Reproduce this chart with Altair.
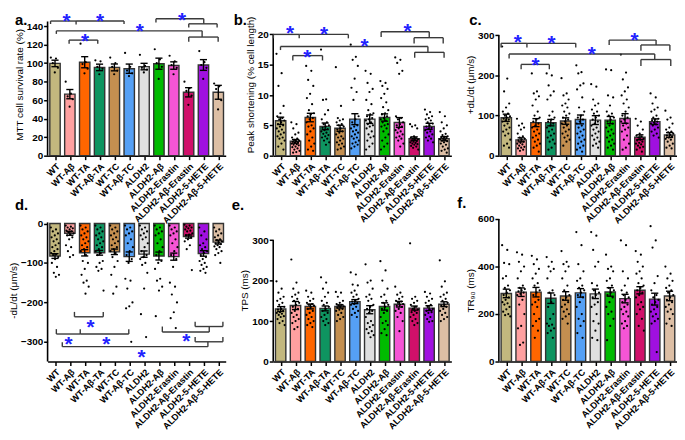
import altair as alt
import pandas as pd

groups = ["WT", "WT-Aβ", "WT-TA", "WT-Aβ-TA", "WT-TC", "WT-Aβ-TC", "ALDH2",
          "ALDH2-Aβ", "ALDH2-Erastin", "ALDH2-Aβ-Erastin", "ALDH2-5-HETE", "ALDH2-Aβ-5-HETE"]
colors = ["#C2B77E", "#FFA0A0", "#FF6600", "#0E9460", "#C48F50", "#55A0F5", "#E0E0E0",
          "#00BB00", "#F555D5", "#D0106A", "#A010E0", "#DDBFA5"]

# ---------------- panel a: MTT ----------------
a_mean = [99.7, 66.5, 101.0, 95.4, 95.4, 94.0, 96.3, 99.4, 97.4, 68.5, 98.0, 68.5]
a_sem = [3.5, 5.0, 6.0, 3.5, 3.7, 5.0, 3.5, 6.0, 4.0, 5.0, 5.8, 7.5]
a_pts = [
    [106, 105, 100, 95, 90],
    [80, 67, 64, 61, 53],
    [121, 101, 99, 94, 89],
    [103, 102, 96, 94, 88],
    [106, 100, 96, 92, 88],
    [111, 96, 92, 89, 86],
    [109, 97, 95, 93, 90],
    [115, 104, 100, 96, 83],
    [108, 102, 98, 95, 88],
    [80, 73, 70, 65, 55],
    [113, 101, 98, 95, 83],
    [78, 75, 72, 60, 50],
]

# ---------------- panel b: peak shortening ----------------
b_mean = [5.75, 2.37, 6.29, 4.84, 4.52, 6.02, 6.02, 6.29, 5.48, 2.8, 4.84, 2.8]
b_sem = [0.6, 0.3, 0.7, 0.55, 0.5, 0.9, 0.7, 0.6, 0.8, 0.3, 0.5, 0.35]
b_pts = [
    [16.8, 13.6, 11.5, 8.2, 7.0, 6.5, 6.2, 6.0, 5.8, 5.5, 5.2, 5.0, 4.8, 4.5, 4.3, 4.0, 3.8, 3.5, 3.2, 3.0, 2.8, 2.5, 2.0, 1.5, 1.0],
    [5.5, 5.2, 4.5, 3.8, 3.5, 3.0, 2.8, 2.6, 2.5, 2.4, 2.3, 2.2, 2.1, 2.0, 1.9, 1.8, 1.7, 1.5, 1.4, 1.2, 1.0, 0.8, 0.6, 0.5],
    [14.8, 14.0, 12.5, 11.5, 10.2, 9.5, 8.5, 7.5, 7.0, 6.8, 6.5, 6.2, 6.0, 5.5, 5.0, 4.8, 4.5, 4.0, 3.5, 3.0, 2.5, 2.0, 1.5, 1.0, 0.8],
    [17.5, 9.3, 9.2, 7.5, 6.8, 6.0, 5.5, 5.2, 5.0, 4.8, 4.6, 4.4, 4.2, 4.0, 3.8, 3.6, 3.4, 3.2, 3.0, 2.8, 2.5, 2.2, 1.8],
    [14.6, 8.2, 6.2, 6.0, 5.8, 5.5, 5.2, 5.0, 4.8, 4.5, 4.3, 4.0, 3.8, 3.5, 3.2, 3.0, 2.8, 2.5, 2.2, 2.0, 1.8, 1.5, 1.2, 1.0],
    [18.3, 16.3, 15.8, 14.8, 12.7, 11.2, 10.5, 9.2, 6.5, 6.0, 5.5, 5.0, 4.8, 4.5, 4.2, 4.0, 3.8, 3.5, 3.2, 3.0, 2.8, 2.5, 2.2, 2.0, 1.8, 1.5, 1.2],
    [14.0, 13.5, 12.0, 11.0, 10.5, 9.2, 8.5, 7.5, 7.0, 6.8, 6.5, 6.2, 6.0, 5.8, 5.5, 5.2, 5.0, 4.8, 4.5, 4.0, 3.5, 3.2, 3.0, 2.5, 2.0, 1.5, 1.0],
    [12.3, 12.0, 11.5, 11.0, 10.2, 9.5, 8.8, 8.0, 7.5, 7.0, 6.8, 6.5, 6.2, 6.0, 5.8, 5.5, 5.2, 5.0, 4.8, 4.5, 4.0, 3.5, 3.0, 2.5, 2.0, 1.5, 1.0],
    [16.2, 15.8, 15.3, 14.0, 13.5, 6.5, 6.2, 6.0, 5.5, 5.2, 5.0, 4.8, 4.5, 4.2, 4.0, 3.8, 3.5, 3.2, 3.0, 2.8, 2.5, 2.0, 1.5],
    [5.2, 5.0, 4.8, 4.5, 3.2, 3.0, 2.9, 2.8, 2.7, 2.6, 2.5, 2.4, 2.3, 2.2, 2.1, 2.0, 1.9, 1.8, 1.6, 1.5, 1.3, 1.0],
    [7.6, 7.2, 6.8, 6.5, 6.2, 6.0, 5.8, 5.5, 5.3, 5.0, 4.8, 4.6, 4.4, 4.2, 4.0, 3.8, 3.5, 3.2, 3.0, 2.8, 2.5, 2.2],
    [7.2, 6.5, 5.5, 5.0, 4.5, 4.0, 3.6, 3.4, 3.2, 3.1, 3.0, 2.9, 2.8, 2.7, 2.6, 2.5, 2.4, 2.2, 2.0, 1.8, 1.5, 1.2, 1.0, 0.8, 0.5],
]

# ---------------- panel c: +dL/dt ----------------
c_mean = [94.4, 39.5, 82.3, 82.3, 86.3, 90.3, 88.7, 88.7, 92.7, 46.0, 84.7, 51.6]
c_sem = [9, 5, 10, 8, 8, 11, 11, 9, 12, 6, 7, 6]
c_pts = [
    [272, 192, 160, 130, 120, 110, 105, 100, 98, 95, 92, 90, 88, 85, 80, 75, 70, 65, 60, 55, 50, 40, 30, 25, 20],
    [92, 80, 75, 70, 65, 55, 48, 45, 42, 40, 38, 35, 32, 30, 28, 25, 22, 20, 18, 15, 12],
    [205, 160, 155, 148, 140, 125, 110, 100, 95, 90, 85, 80, 75, 70, 65, 60, 55, 50, 45, 40, 35, 30, 25, 20, 10],
    [205, 200, 175, 160, 150, 140, 110, 100, 95, 90, 85, 80, 75, 70, 65, 60, 55, 50, 45, 40, 35, 30, 20, 15],
    [193, 155, 150, 140, 130, 125, 120, 110, 105, 100, 95, 90, 85, 80, 75, 70, 65, 60, 55, 50, 45, 40, 35, 25],
    [225, 208, 205, 180, 175, 165, 145, 120, 110, 100, 95, 90, 85, 80, 75, 70, 65, 60, 55, 50, 45, 40, 35, 30, 25, 20, 15, 10],
    [178, 172, 140, 130, 125, 115, 110, 105, 100, 95, 90, 85, 80, 75, 70, 65, 60, 55, 50, 45, 40, 35, 30, 25, 20],
    [215, 213, 150, 145, 125, 110, 105, 100, 95, 90, 85, 80, 75, 70, 65, 60, 55, 50, 45, 40, 35, 30, 25, 20, 15],
    [252, 207, 190, 170, 160, 150, 140, 130, 120, 110, 100, 95, 90, 85, 80, 75, 70, 65, 60, 50, 40, 30, 20, 15],
    [92, 85, 75, 65, 55, 50, 48, 45, 42, 40, 38, 35, 32, 30, 28, 25, 22, 20, 15, 10],
    [155, 145, 130, 120, 115, 110, 100, 95, 92, 90, 88, 85, 82, 80, 78, 75, 70, 65, 60, 55, 50, 45],
    [112, 95, 90, 80, 70, 65, 60, 58, 55, 52, 50, 48, 45, 42, 40, 35, 30, 25, 20, 18],
]

# ---------------- panel d: -dL/dt ----------------
d_mean = [-82.4, -24.7, -74.2, -74.2, -71.7, -84.0, -77.5, -82.4, -84.0, -33.0, -75.8, -47.0]
d_sem = [6, 5, 8, 6, 7, 12, 8, 10, 9, 4, 7, 5]
d_pts = [
    [-10, -15, -20, -25, -30, -35, -40, -45, -50, -55, -60, -65, -70, -75, -78, -80, -85, -90, -100, -110, -125, -130, -135],
    [-5, -8, -10, -12, -15, -18, -20, -22, -25, -28, -30, -35, -40, -55, -60, -70, -80, -85],
    [-5, -10, -15, -20, -25, -30, -35, -40, -45, -50, -55, -60, -65, -70, -80, -95, -100, -115, -130, -145, -150, -160, -178],
    [-5, -10, -15, -20, -25, -30, -35, -40, -45, -50, -55, -60, -65, -70, -75, -80, -95, -100, -110, -115, -120, -170],
    [-5, -10, -15, -20, -25, -30, -35, -40, -45, -50, -55, -60, -65, -70, -75, -85, -95, -110, -130, -160, -178],
    [-5, -10, -15, -20, -25, -30, -40, -50, -60, -70, -80, -90, -100, -140, -145, -165, -200, -210, -215, -300],
    [-5, -10, -15, -20, -25, -30, -35, -40, -50, -60, -70, -80, -85, -90, -100, -105, -125, -165, -230, -288],
    [-5, -10, -15, -20, -25, -30, -40, -50, -60, -70, -80, -95, -100, -115, -140, -145, -160, -170, -235],
    [-5, -10, -15, -20, -25, -30, -40, -50, -60, -70, -80, -90, -110, -150, -160, -180, -200, -225, -240, -265],
    [-3, -5, -8, -10, -12, -15, -18, -20, -25, -28, -30, -35, -40, -45, -55, -65, -118],
    [-10, -20, -30, -40, -50, -55, -60, -65, -70, -75, -80, -85, -90, -95, -100, -105, -110, -115, -120, -125],
    [-10, -15, -20, -25, -30, -35, -40, -42, -45, -48, -50, -52, -55, -58, -60, -65, -70, -75, -80, -100],
]

# ---------------- panel e: TPS ----------------
e_mean = [129.6, 138.4, 136.0, 131.2, 136.0, 148.0, 128.0, 136.0, 141.6, 132.0, 132.0, 141.6]
e_sem = [6, 10, 6, 6, 4, 5, 10, 9, 7, 5, 6, 6]
e_pts = [
    [198, 180, 170, 160, 155, 150, 145, 140, 135, 130, 128, 125, 122, 120, 118, 115, 112, 110, 105, 100, 95, 90],
    [252, 195, 180, 170, 165, 160, 155, 150, 145, 140, 135, 130, 125, 120, 115, 110, 105, 100, 95, 85, 80],
    [175, 170, 160, 155, 150, 145, 142, 140, 138, 135, 130, 125, 120, 115, 110, 105, 100, 95, 90, 85],
    [208, 195, 180, 170, 160, 150, 145, 140, 135, 130, 125, 120, 115, 110, 105, 100, 95, 90],
    [172, 170, 160, 150, 145, 142, 140, 138, 136, 135, 133, 130, 128, 125, 120, 115, 110, 105, 100],
    [220, 215, 190, 188, 175, 170, 165, 160, 155, 150, 148, 145, 142, 140, 135, 130, 125, 120, 115, 110],
    [240, 200, 195, 180, 165, 160, 155, 150, 140, 135, 130, 125, 120, 110, 100, 95, 90, 85, 80, 75, 70, 65, 60],
    [248, 225, 200, 180, 165, 160, 150, 145, 140, 135, 130, 125, 120, 110, 100, 95, 90, 80, 70, 65],
    [185, 170, 165, 160, 155, 150, 148, 145, 142, 140, 138, 135, 130, 125, 120, 110, 100, 75],
    [292, 160, 155, 150, 145, 140, 135, 130, 128, 125, 122, 120, 115, 110, 105, 100, 95, 90],
    [172, 168, 160, 155, 150, 145, 140, 135, 130, 128, 125, 122, 120, 115, 110, 105, 100, 98],
    [250, 198, 185, 170, 165, 160, 155, 150, 145, 140, 138, 135, 130, 125, 120, 115, 110, 105, 100],
]

# ---------------- panel f: TR90 ----------------
f_mean = [286.7, 292.0, 292.0, 266.7, 276.0, 289.0, 285.0, 293.0, 265.0, 300.0, 262.7, 276.0]
f_sem = [18, 18, 20, 22, 18, 18, 20, 18, 18, 15, 25, 20]
f_pts = [
    [490, 470, 415, 410, 360, 350, 320, 310, 300, 290, 280, 270, 260, 250, 245, 240, 230, 220, 210, 200, 195, 190],
    [460, 450, 420, 400, 380, 350, 320, 310, 305, 300, 295, 290, 285, 280, 260, 240, 200, 150, 140, 80, 70],
    [445, 430, 410, 390, 370, 350, 330, 320, 300, 290, 280, 260, 250, 240, 230, 200, 180, 170, 150, 130, 100],
    [440, 420, 400, 390, 380, 350, 300, 290, 280, 250, 230, 200, 180, 160, 155, 150, 140, 130, 120, 100],
    [465, 420, 410, 400, 380, 350, 320, 300, 280, 270, 260, 250, 240, 230, 220, 210, 200, 190, 180, 160],
    [545, 490, 410, 380, 350, 340, 320, 310, 300, 290, 280, 270, 250, 230, 200, 180, 170, 150, 120, 100],
    [545, 530, 470, 420, 400, 330, 320, 300, 290, 280, 270, 250, 240, 230, 200, 170, 160, 130, 100, 90],
    [450, 400, 390, 380, 350, 340, 320, 310, 300, 290, 280, 270, 250, 230, 210, 200, 180, 150, 90],
    [510, 490, 380, 350, 320, 300, 290, 280, 270, 260, 250, 240, 230, 220, 210, 200, 190, 170, 160, 150, 140],
    [465, 450, 420, 400, 380, 370, 350, 330, 320, 310, 300, 290, 280, 270, 250, 240, 230, 220, 200, 180, 150, 130],
    [570, 510, 480, 360, 330, 300, 280, 270, 260, 250, 240, 230, 220, 210, 200, 190, 180, 170, 160, 40],
    [400, 370, 350, 340, 320, 310, 300, 290, 280, 270, 260, 250, 240, 230, 220, 210, 200, 180, 160, 150],
]


# ---------------- significance brackets ----------------
def bracket(xl, xr, y, legs):
    """horizontal bar from xl to xr at height y, plus vertical legs (x, y_end)."""
    segs = [(xl, y, xr, y)]
    for lx, ly in legs:
        segs.append((lx, y, lx, ly))
    return segs


a_brk = (bracket(-0.30, 1.42, 145.5, [(-0.30, 142.3), (1.42, 141.8)])
         + bracket(1.42, 4.65, 145.5, [(4.65, 142.3)])
         + bracket(0.95, 2.88, 124.9, [(0.95, 120.9), (2.88, 120.9)])
         + bracket(0.09, 9.91, 134.9, [(0.09, 131.6), (9.91, 128.2)])
         + bracket(9.01, 10.99, 128.2, [(9.01, 123.2), (10.99, 123.2)])
         + bracket(6.80, 10.02, 148.0, [(6.80, 144.0), (10.02, 142.5)])
         + bracket(9.01, 10.92, 142.5, [(9.01, 138.5), (10.92, 138.5)]))
a_star = [(0.77, 150.3), (3.03, 150.3), (2.02, 129.5), (5.72, 140.5), (8.56, 151.8)]

b_brk = (bracket(-0.49, 1.25, 20.0, [(-0.49, 19.35), (1.25, 19.35)])
         + bracket(1.25, 4.56, 20.0, [(4.56, 19.35)])
         + bracket(0.82, 2.82, 16.5, [(0.82, 15.7), (2.82, 15.7)])
         + bracket(-0.01, 9.92, 18.0, [(-0.01, 17.42), (9.92, 17.04)])
         + bracket(9.03, 11.01, 17.04, [(9.03, 16.13), (11.01, 16.13)])
         + bracket(6.77, 10.01, 20.43, [(6.77, 19.57), (10.01, 19.46)])
         + bracket(8.99, 10.95, 19.46, [(8.99, 18.49), (10.95, 18.49)]))
b_star = [(0.64, 21.07), (2.93, 20.9), (1.80, 17.04), (5.65, 18.92), (8.55, 21.34)]

c_brk = (bracket(-0.35, 1.39, 279.9, [(-0.35, 269.4), (1.39, 269.4)])
         + bracket(1.39, 4.68, 279.9, [(4.68, 269.4)])
         + bracket(1.0, 2.90, 227.4, [(1.0, 215.3), (2.90, 215.3)])
         + bracket(0.19, 10.0, 253.2, [(0.19, 242.0), (10.0, 239.5)])
         + bracket(9.07, 11.08, 239.5, [(9.07, 223.4), (11.08, 223.4)])
         + bracket(6.93, 10.09, 287.9, [(6.93, 275.8), (10.09, 275.8)])
         + bracket(9.07, 11.02, 275.8, [(9.07, 261.3), (11.02, 261.3)]))
c_star = [(0.78, 296.0), (3.05, 293.5), (1.97, 237.1), (5.76, 265.3), (8.64, 300.0)]

d_brk = (bracket(0.09, 1.70, -280.2, [(0.09, -267.8), (1.70, -267.8)])
         + bracket(1.70, 4.97, -280.2, [(4.97, -267.8)])
         + bracket(1.31, 3.25, -236.5, [(1.31, -224.1), (3.25, -224.1)])
         + bracket(0.49, 10.30, -312.3, [(0.49, -300.8), (10.30, -299.9)])
         + bracket(9.44, 11.31, -299.9, [(9.44, -287.6), (11.31, -287.6)])
         + bracket(7.23, 10.39, -275.2, [(7.23, -261.2), (10.39, -261.2)])
         + bracket(9.44, 11.31, -261.2, [(9.44, -248.8), (11.31, -248.8)]))
d_star = [(0.92, -294.2), (3.46, -294.2), (2.39, -248.8), (5.83, -327.1), (8.84, -285.9)]

FONT = "Liberation Sans"
W, H = 180, 144
label_expr = "[" + ",".join("'%s'" % g for g in groups) + "][datum.value]"


def panel(means, sems, pts, ydom, yticks, yline, ytitle, segs, stars, letter, lx, ly):
    bars = pd.DataFrame({"idx": list(range(12)), "name": groups, "mean": means, "sem": sems})
    bars["zero"] = 0.0
    bars["lo"] = bars["mean"] - bars["sem"]
    bars["hi"] = bars["mean"] + bars["sem"]
    bars["x1"] = bars["idx"] - 0.35
    bars["x2"] = bars["idx"] + 0.35
    bars["c1"] = bars["idx"] - 0.24
    bars["c2"] = bars["idx"] + 0.24

    rows = []
    for g, vals in enumerate(pts):
        for k, v in enumerate(vals):
            rows.append({"px": g + (((k * 0.618034) % 1.0) - 0.5) * 0.56, "val": v})
    pdf = pd.DataFrame(rows)

    xs = alt.Scale(domain=[-0.5, 11.5], nice=False, zero=False)
    ys = alt.Scale(domain=ydom, nice=False, zero=False)

    x_axis = alt.Axis(values=list(range(12)), labelExpr=label_expr, labelAngle=-45,
                      labelFont=FONT, labelFontWeight="bold", labelFontSize=9.2,
                      labelColor="black", labelOverlap=False, labelFlush=False,
                      labelPadding=2, tickColor="black", tickWidth=1.5, tickSize=4,
                      domainColor="black", domainWidth=1.6, grid=False, title=None)
    y_axis = alt.Axis(values=yticks, domain=False, tickColor="black", tickWidth=1.5,
                      tickSize=4, labelFont=FONT, labelFontWeight="bold", labelFontSize=10,
                      labelColor="black", labelPadding=1, grid=False, title=ytitle,
                      titleFont=FONT, titleFontSize=10, titleFontWeight="normal",
                      titleColor="black", titlePadding=2)

    def X(f):
        return alt.X(f, type="quantitative", scale=xs, axis=x_axis)

    def Y(f):
        return alt.Y(f, type="quantitative", scale=ys, axis=y_axis)

    bar = alt.Chart(bars).mark_bar(stroke="#333333", strokeWidth=1.4).encode(
        x=X("x1"),
        x2="x2:Q",
        y=Y("mean"),
        y2="zero:Q",
        color=alt.Color("name:N", scale=alt.Scale(domain=groups, range=colors), legend=None),
    )
    dots = alt.Chart(pdf).mark_circle(size=5, color="black", opacity=1).encode(
        x=X("px"), y=Y("val"))
    err = alt.Chart(bars).mark_rule(color="black", strokeWidth=1.4).encode(
        x=X("idx"), y=Y("lo"), y2="hi:Q")
    cap_hi = alt.Chart(bars).mark_rule(color="black", strokeWidth=1.4).encode(
        x=X("c1"), x2="c2:Q", y=Y("hi"))
    cap_lo = alt.Chart(bars).mark_rule(color="black", strokeWidth=1.4).encode(
        x=X("c1"), x2="c2:Q", y=Y("lo"))
    axline = alt.Chart(pd.DataFrame({"lo": [yline[0]], "hi": [yline[1]]})).mark_rule(
        color="black", strokeWidth=1.6).encode(x=alt.value(0), y=Y("lo"), y2="hi:Q")
    layers = [bar, dots, err, cap_hi, cap_lo, axline]

    if segs:
        sdf = pd.DataFrame(segs, columns=["sx1", "sy1", "sx2", "sy2"])
        layers.append(alt.Chart(sdf).mark_rule(color="#3a3a3a", strokeWidth=1.4).encode(
            x=X("sx1"), y=Y("sy1"), x2="sx2:Q", y2="sy2:Q"))
        tdf = pd.DataFrame(stars, columns=["tx", "ty"])
        tdf["t"] = "*"
        layers.append(alt.Chart(tdf).mark_text(color="#2222ff", fontSize=21, font=FONT,
                                               fontWeight="bold", baseline="middle",
                                               dy=6).encode(
            x=X("tx"), y=Y("ty"), text="t:N"))

    ldf = pd.DataFrame({"t": [letter]})
    layers.append(alt.Chart(ldf).mark_text(align="left", baseline="top", fontSize=15,
                                           fontWeight="bold", font=FONT, color="black").encode(
        x=alt.value(lx), y=alt.value(ly), text="t:N"))

    return alt.layer(*layers).properties(width=W, height=H)


pa = panel(a_mean, a_sem, a_pts, [0, 154], [0, 20, 40, 60, 80, 100, 120, 140], (0, 145),
           "MTT cell survival rate (%)", a_brk, a_star, "a.", -33, 0)
pb = panel(b_mean, b_sem, b_pts, [0, 23.5], [0, 5, 10, 15, 20], (0, 20),
           "Peak shortening (% cell length)", b_brk, b_star, "b.", -40, 0)
pc = panel(c_mean, c_sem, c_pts, [0, 355], [0, 100, 200, 300], (0, 300),
           "+dL/dt (μm/s)", c_brk, c_star, "c.", -30, 0)
pd_ = panel(d_mean, d_sem, d_pts, [-350, 11.5], [0, -100, -200, -300], (-350, 3),
            "-dL/dt (μm/s)", d_brk, d_star, "d.", -33, -21)
pe = panel(e_mean, e_sem, e_pts, [0, 352], [0, 100, 200, 300], (0, 300),
           "TPS (ms)", None, None, "e.", -42, -21)
pf = panel(f_mean, f_sem, f_pts, [0, 600], [0, 200, 400, 600], (0, 600),
           "TR₉₀ (ms)", None, None, "f.", -42, -23)

chart = alt.concat(pa, pb, pc, pd_, pe, pf, columns=3,
                   spacing=alt.RowColnumber(row=64, column=48),
                   bounds="flush").properties(padding=0).configure_view(stroke=None)

chart.save("out.html", embed_options={"renderer": "svg", "actions": False})
